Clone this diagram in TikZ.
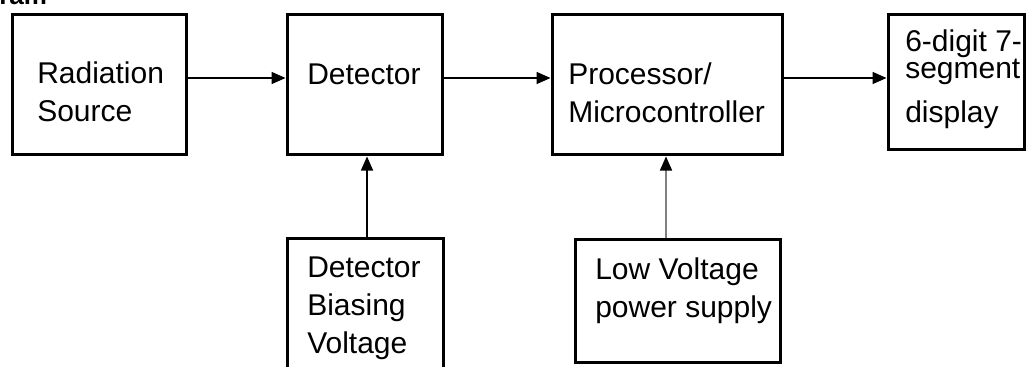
\documentclass[tikz,border=0pt]{standalone}
\usepackage{fontspec}
\setmainfont{Liberation Sans}
\usetikzlibrary{arrows.meta}
\begin{document}
\begin{tikzpicture}[x=0.75pt,y=-0.75pt,
  blk/.style 2 args={draw,line width=2.25pt,inner sep=0pt,
    minimum width=#1*0.75pt,minimum height=#2*0.75pt},
  lbl/.style={anchor=base west,inner sep=0pt,align=left,
    font=\fontsize{22.5}{28.5}\selectfont},
  flow/.style={line width=1.1pt,-{Triangle[length=10.5pt,width=9pt]}}]
  \useasboundingbox (0,0) rectangle (1027,367);
  \clip (0,0) rectangle (1027,367);
  % top row
  \node[blk={174}{140}] (src) at (99,85) {};
  \node[blk={155}{140}] (det) at (364.5,85) {};
  \node[blk={230}{140}] (proc) at (667,85) {};
  \node[blk={136}{135}] (disp) at (956,82.5) {};
  % bottom row
  \node[blk={156}{142}] (bias) at (365,309) {};
  \node[blk={205}{123}] (lv) at (677.5,301) {};
  % texts (base = last line)
  \node[anchor=base west,inner sep=0pt,font=\fontsize{19.5}{24}\selectfont\bfseries] (ttl) at (-1,5) {ram};
  \node[lbl] (srct) at (37,122) {Radiation\\Source};
  \node[lbl] (dett) at (307,85) {Detector};
  \node[lbl] (proct) at (568,123) {Processor/\\Microcontroller};
  \node[lbl] (dispt) at (905,123) {6-digit 7-\\[-7.5pt]segment\\[4.5pt]display};
  \node[lbl] (biast) at (307,353) {Detector\\Biasing\\Voltage};
  \node[lbl] (lvt) at (595,317) {Low Voltage\\power supply};
  % connectors
  \draw[flow] (src.east |- 0,78) -- (det.west |- 0,78);
  \draw[flow] (det.east |- 0,78) -- (proc.west |- 0,78);
  \draw[flow] (proc.east |- 0,78) -- (disp.west |- 0,78);
  \draw[flow] (bias.north -| 367,0) -- (det.south -| 367,0);
  \draw[flow,gray,-{Triangle[length=10.5pt,width=9pt,color=black]}] (lv.north -| 666,0) -- (proc.south -| 666,0);
\end{tikzpicture}
\end{document}
